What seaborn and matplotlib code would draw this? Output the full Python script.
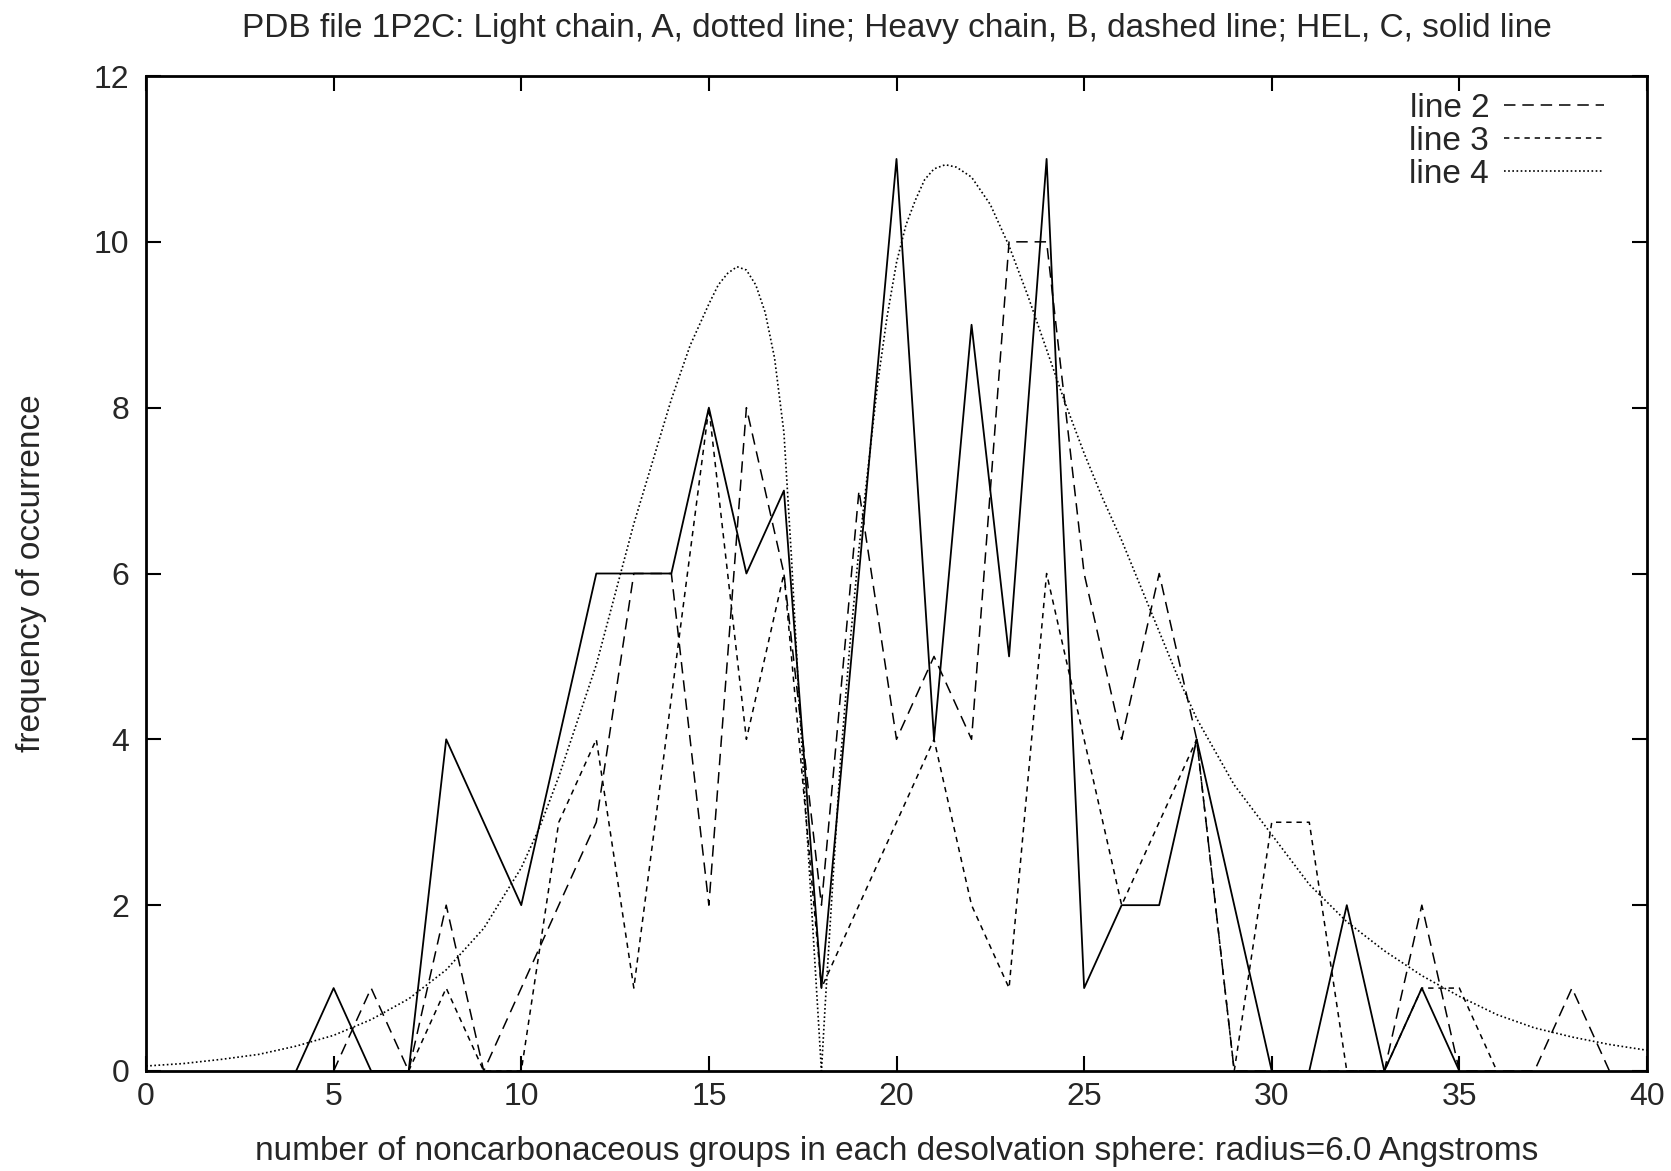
import numpy as np
import pandas as pd
import seaborn as sns
import matplotlib
matplotlib.use("Agg")
import matplotlib.pyplot as plt

# HEL, chain C (solid, no key entry)
x_c = [4, 5, 6, 7, 8, 9, 10, 11, 12, 13, 14, 15, 16, 17, 18, 19, 20, 21, 22, 23, 24,
       25, 26, 27, 28, 29, 30, 31, 32, 33, 34, 35]
y_c = [0, 1, 0, 0, 4, 3, 2, 4, 6, 6, 6, 8, 6, 7, 1, 6, 11, 4, 9, 5, 11,
       1, 2, 2, 4, 2, 0, 0, 2, 0, 1, 0]

# line 2 (long dashes)
x_2 = [5, 6, 7, 8, 9, 10, 11, 12, 13, 14, 15, 16, 17, 18, 19, 20, 21, 22, 23, 24, 25,
       26, 27, 28, 29, 30, 31, 32, 33, 34, 35, 36, 37, 38, 39]
y_2 = [0, 1, 0, 2, 0, 1, 2, 3, 6, 6, 2, 8, 6, 2, 7, 4, 5, 4, 10, 10, 6,
       4, 6, 4, 0, 0, 0, 0, 0, 2, 0, 0, 0, 1, 0]

# line 3 (short dashes)
x_3 = [7, 8, 9, 10, 11, 12, 13, 14, 15, 16, 17, 18, 19, 20, 21, 22, 23, 24, 25,
       26, 27, 28, 29, 30, 31, 32, 33, 34, 35, 36]
y_3 = [0, 1, 0, 0, 3, 4, 1, 4.5, 8, 4, 6, 1, 2, 3, 4, 2, 1, 6, 4,
       2, 3, 4, 0, 3, 3, 0, 0, 1, 1, 0]

# line 4 (dotted fit curve)
x_4 = [0, 1, 2, 3, 4, 5, 6, 7, 8, 9, 10, 10.5, 11, 12, 13, 14, 14.5, 15, 15.25, 15.5,
       15.75, 16.0, 16.25, 16.5, 16.75, 17.0, 17.2, 17.4, 17.6, 17.8, 17.9, 18.0,
       18.1, 18.25, 18.5, 18.75, 19.0, 19.25, 19.5, 19.75, 20.0, 20.25, 20.5, 20.75,
       21.0, 21.3, 21.6, 22.0, 22.5, 23, 23.5, 24, 24.5, 25, 25.5, 26, 26.5, 27, 27.5,
       28, 29, 30, 31, 32, 33, 34, 35, 36, 37, 38, 39, 40]
y_4 = [0.06, 0.09, 0.14, 0.2, 0.3, 0.43, 0.62, 0.87, 1.22, 1.72, 2.45, 2.95, 3.55,
       4.9, 6.6, 8.1, 8.75, 9.25, 9.48, 9.62, 9.7, 9.66, 9.48, 9.15, 8.6, 7.7, 6.2,
       4.5, 3.0, 1.5, 0.75, 0.0,
       0.8, 1.9, 3.7, 5.1, 6.3, 7.3, 8.3, 9.1, 9.75, 10.2, 10.5, 10.75,
       10.88, 10.93, 10.9, 10.78, 10.45, 9.95, 9.35, 8.7, 8.05, 7.45, 6.9, 6.4, 5.85,
       5.3, 4.75, 4.25, 3.45, 2.85, 2.25, 1.8, 1.45, 1.15, 0.9, 0.68, 0.52, 0.41,
       0.32, 0.25]

title = "PDB file 1P2C: Light chain, A, dotted line; Heavy chain, B, dashed line; HEL, C, solid line"
xlabel = "number of noncarbonaceous groups in each desolvation sphere: radius=6.0 Angstroms"
ylabel = "frequency of occurrence"

sns.set_style("ticks")
plt.rcParams["font.family"] = ["Liberation Sans", "DejaVu Sans"]
plt.rcParams["font.size"] = 24

fig = plt.figure(figsize=(16.71, 11.71), dpi=100)
ax = fig.add_axes([146 / 1671, 1 - 1071 / 1171, 1501 / 1671, 995 / 1171])

lw = 1.1
sns.lineplot(x=x_c, y=y_c, ax=ax, color="black", linewidth=1.3, sort=False)
sns.lineplot(x=x_2, y=y_2, ax=ax, color="black", linewidth=lw, sort=False,
             linestyle=(0, (7.5, 4.5)), label="line 2")
sns.lineplot(x=x_3, y=y_3, ax=ax, color="black", linewidth=lw, sort=False,
             linestyle=(0, (3.5, 3.2)), label="line 3")
sns.lineplot(x=x_4, y=y_4, ax=ax, color="black", linewidth=1.2, sort=False,
             linestyle=(0, (1.0, 1.5)), label="line 4")

ax.set_xlim(0, 40)
ax.set_ylim(0, 12)
ax.set_xticks(range(0, 41, 5))
ax.set_yticks(range(0, 13, 2))
ax.tick_params(direction="in", length=11, width=1.5, top=True, right=True,
               labelsize=23, color="black")
ax.tick_params(axis="x", pad=8)
ax.tick_params(axis="y", pad=12)
for s in ax.spines.values():
    s.set_linewidth(2)
    s.set_color("black")

ax.set_title(title, fontsize=24, pad=28)
ax.set_xlabel(xlabel, fontsize=24, va="center")
ax.set_ylabel(ylabel, fontsize=24, va="center")
ax.xaxis.set_label_coords(0.5, -0.081)
ax.yaxis.set_label_coords(-0.076, 0.5)

handles = ax.get_lines()[1:4]
ax.legend(handles=handles, labels=["line 2", "line 3", "line 4"], loc="upper right",
          bbox_to_anchor=(0.9915, 1.013), frameon=False, markerfirst=False,
          handlelength=3.0, handletextpad=0.45, labelspacing=0.06, fontsize=24)

fig.savefig("out.png", dpi=100, facecolor="white")
